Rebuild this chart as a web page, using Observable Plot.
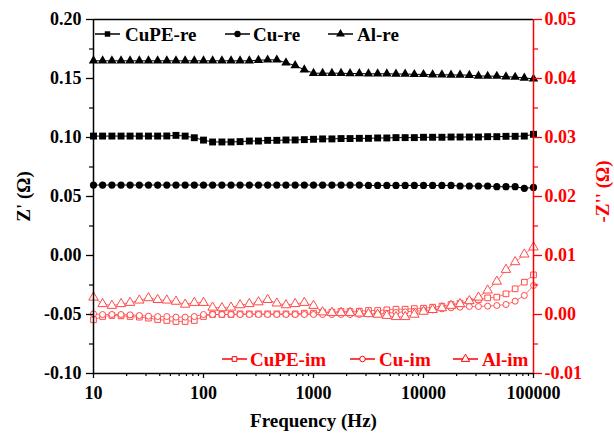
<!DOCTYPE html>
<html><head><meta charset="utf-8">
<script src="https://cdn.jsdelivr.net/npm/d3@7"></script>
<script src="https://cdn.jsdelivr.net/npm/@observablehq/plot@0.6"></script>
<style>
body{margin:0;background:#fff;}
#wrap{position:relative;width:614px;height:444px;}
#wrap svg.overlay{position:absolute;left:0;top:0;pointer-events:none;}
</style></head><body><div id="wrap"></div>
<script>
// Frequency (Hz), 12 points per decade
const freq = [10, 12.1, 14.7, 17.8, 21.5, 26.1, 31.6, 38.3, 46.4, 56.2, 68.1, 82.5,
  100, 121, 147, 178, 215, 261, 316, 383, 464, 562, 681, 825,
  1000, 1210, 1470, 1780, 2150, 2610, 3160, 3830, 4640, 5620, 6810, 8250,
  10000, 12100, 14700, 17800, 21500, 26100, 31600, 38300, 46400, 56200, 68100, 82500,
  100000];

// Z' (Ohm), left axis
const cupeRe = [0.1012, 0.1012, 0.1012, 0.1012, 0.1012, 0.1012, 0.1012, 0.1012, 0.1013, 0.1018,
  0.1012, 0.0998, 0.0978, 0.0962, 0.0962, 0.0962, 0.0965, 0.0970, 0.0970, 0.0976,
  0.0976, 0.0979, 0.0979, 0.0982, 0.0985, 0.0988, 0.0988, 0.0991, 0.0991, 0.0993,
  0.0993, 0.0996, 0.0996, 0.0999, 0.0999, 0.0999, 0.1002, 0.1002, 0.1002, 0.1004,
  0.1004, 0.1004, 0.1004, 0.1007, 0.1007, 0.1010, 0.1010, 0.1012, 0.1027];
const cuRe = [0.0597, 0.0597, 0.0597, 0.0597, 0.0597, 0.0597, 0.0597, 0.0597, 0.0597, 0.0597,
  0.0597, 0.0597, 0.0597, 0.0597, 0.0597, 0.0597, 0.0597, 0.0597, 0.0597, 0.0597,
  0.0597, 0.0597, 0.0597, 0.0597, 0.0597, 0.0597, 0.0597, 0.0597, 0.0597, 0.0597,
  0.0594, 0.0594, 0.0594, 0.0594, 0.0594, 0.0594, 0.0594, 0.0594, 0.0594, 0.0594,
  0.0589, 0.0589, 0.0589, 0.0589, 0.0583, 0.0583, 0.0583, 0.0569, 0.0577];
const alRe = [0.1650, 0.1650, 0.1650, 0.1650, 0.1650, 0.1650, 0.1650, 0.1650, 0.1650, 0.1650,
  0.1650, 0.1650, 0.1650, 0.1650, 0.1650, 0.1650, 0.1650, 0.1650, 0.1655, 0.1658,
  0.1658, 0.1633, 0.1610, 0.1574, 0.1545, 0.1545, 0.1545, 0.1545, 0.1542, 0.1542,
  0.1540, 0.1540, 0.1540, 0.1538, 0.1538, 0.1535, 0.1535, 0.1532, 0.1532, 0.1530,
  0.1530, 0.1528, 0.1522, 0.1520, 0.1520, 0.1515, 0.1512, 0.1505, 0.1497];

// -Z'' (Ohm), right axis
const cupeIm = [-0.0009, -0.00034, -0.00017, -0.00023, -0.00034, -0.00045, -0.00062, -0.00085, -0.00102, -0.00119,
  -0.00119, -0.00102, -0.00034, 0, 0, 0, 0.00011, 0.00011, 0.00011, 0.00011,
  0.00011, 0.00011, 0.00011, 0.00023, 0.00023, 0.0004, 0.0004, 0.00051, 0.00051, 0.00056,
  0.00068, 0.00068, 0.00079, 0.0009, 0.0009, 0.001, 0.00107, 0.00124, 0.00141, 0.0017,
  0.00192, 0.00226, 0.00254, 0.00282, 0.00294, 0.0035, 0.00435, 0.00548, 0.00672];
const cuIm = [0.00011, 0, 0, 0, -0.00006, -0.00017, -0.00028, -0.00034, -0.00034, -0.00045,
  -0.00045, -0.00034, 0, 0, 0, 0, 0, 0, 0, 0,
  0, 0, 0, 0, 0, 0, 0, 0, 0, 0,
  0.00011, 0.00011, 0.00023, 0.00034, 0.00045, 0.00056, 0.00068, 0.00079, 0.00096, 0.00113,
  0.00124, 0.00136, 0.00136, 0.00141, 0.00153, 0.0017, 0.00226, 0.00322, 0.00492];
const alIm = [0.0029, 0.0018, 0.0015, 0.0018, 0.0020, 0.0024, 0.0028, 0.0025, 0.0024, 0.0022,
  0.0017, 0.0020, 0.0020, 0.0012, 0.0011, 0.0012, 0.0016, 0.0018, 0.0021, 0.0025,
  0.0019, 0.0016, 0.0018, 0.0020, 0.0015, 0.0004, 0.0003, 0.0003, 0.0003, 0.0002,
  0.0001, 0.0000, -0.0002, -0.0004, -0.0004, 0.0000, 0.0005, 0.0008, 0.0011, 0.0015,
  0.0018, 0.0023, 0.0029, 0.0041, 0.0056, 0.0076, 0.0089, 0.0102, 0.0114];

const xTicks = [10, 100, 1000, 10000, 100000];
const xMinor = [20,30,40,50,60,70,80,90, 200,300,400,500,600,700,800,900,
  2000,3000,4000,5000,6000,7000,8000,9000, 20000,30000,40000,50000,60000,70000,80000,90000];
const yTicks = [-0.10, -0.05, 0.00, 0.05, 0.10, 0.15, 0.20];
const yMinor = [-0.075, -0.025, 0.025, 0.075, 0.125, 0.175];
const y2Ticks = [-0.01, 0.00, 0.01, 0.02, 0.03, 0.04, 0.05];
const y2Minor = [-0.005, 0.005, 0.015, 0.025, 0.035, 0.045];

// map right-axis values onto the left scale: -0.01..0.05 -> -0.10..0.20
const toLeft = v => 5 * v - 0.05;
const fromLeft = v => (v + 0.05) / 5;

const rows = (arr) => freq.map((f, i) => ({f, v: arr[i]}));
const RED = "#ff0000";
const RED2 = "#ff4a4a";
const FONT = "'Liberation Serif', 'Times New Roman', serif";

const reSeries = [
  {data: rows(cupeRe), symbol: "square", r: 3.9},
  {data: rows(cuRe), symbol: "circle", r: 3.6},
  {data: rows(alRe), symbol: "triangle", r: 3.5}
];
const imSeries = [
  {data: rows(cupeIm), symbol: "square", r: 3.2},
  {data: rows(cuIm), symbol: "circle", r: 3.0},
  {data: rows(alIm), symbol: "triangle", r: 3.5}
];

const marks = [];
for (const s of imSeries) {
  marks.push(Plot.line(s.data, {x: "f", y: d => toLeft(d.v), stroke: RED2, strokeWidth: 0.8}));
  marks.push(Plot.dot(s.data, {x: "f", y: d => toLeft(d.v), symbol: s.symbol, r: s.r, stroke: RED2, strokeWidth: 1, fill: "white"}));
}
for (const s of reSeries) {
  marks.push(Plot.line(s.data, {x: "f", y: "v", stroke: "black", strokeWidth: 1}));
  marks.push(Plot.dot(s.data, {x: "f", y: "v", symbol: s.symbol, r: s.r, fill: "black", stroke: "none"}));
}

const chart = Plot.plot({
  width: 614, height: 444,
  marginLeft: 93, marginRight: 81, marginTop: 19, marginBottom: 71,
  x: {type: "log", domain: [10, 100000]},
  y: {domain: [-0.10, 0.20]},
  style: {fontFamily: FONT, fontSize: "18px", fontWeight: "bold", background: "white", color: "black", overflow: "visible"},
  marks: [
    ...marks,
    // frame
    Plot.ruleY([0.20], {stroke: "black", strokeWidth: 1.5}),
    Plot.ruleY([-0.10], {stroke: "black", strokeWidth: 1.5}),
    Plot.ruleX([10], {stroke: "black", strokeWidth: 1.5}),
    Plot.ruleX([100000], {stroke: RED, strokeWidth: 1.5}),
    // left axis
    Plot.axisY(yTicks, {anchor: "left", tickSize: 7, tickPadding: 5, tickFormat: d => d.toFixed(2), label: null, strokeWidth: 1.3}),
    Plot.axisY(yMinor, {anchor: "left", tickSize: 4, tickFormat: () => "", label: null, strokeWidth: 1.2}),
    // right axis
    Plot.axisY(y2Ticks.map(toLeft), {anchor: "right", tickSize: 8, tickPadding: 3, color: RED,
      tickFormat: d => (Math.round(fromLeft(d) * 100) / 100).toFixed(2), label: null, strokeWidth: 1.3}),
    Plot.axisY(y2Minor.map(toLeft), {anchor: "right", tickSize: 4, tickFormat: () => "", label: null, color: RED, strokeWidth: 1.2}),
    // bottom axis
    Plot.axisX(xTicks, {anchor: "bottom", tickSize: 5, tickPadding: 8, tickFormat: d => String(d), label: null, strokeWidth: 1.3}),
    Plot.axisX(xMinor, {anchor: "bottom", tickSize: 3, tickFormat: () => "", label: null, strokeWidth: 1.2}),
    // axis titles
    Plot.text(["Z' (Ω)"], {frameAnchor: "left", dx: -70, rotate: -90, textAnchor: "middle", fontSize: 19, fontWeight: "bold", fill: "black"}),
    Plot.text(["-Z'' (Ω)"], {frameAnchor: "right", dx: 69, dy: -5, rotate: -90, textAnchor: "middle", fontSize: 19, fontWeight: "bold", fill: RED}),
    Plot.text(["Frequency (Hz)"], {frameAnchor: "bottom", dy: 53, textAnchor: "middle", fontSize: 19, fontWeight: "bold", fill: "black"})
  ]
});
const wrap = document.getElementById("wrap");
wrap.appendChild(chart);

// legends (inside the frame)
const legendRe = [
  {label: "CuPE-re", symbol: d3.symbolSquare, size: 30, x: 95, tx: 125},
  {label: "Cu-re", symbol: d3.symbolCircle, size: 32, x: 225, tx: 253},
  {label: "Al-re", symbol: d3.symbolTriangle, size: 34, x: 328, tx: 357}
];
const legendIm = [
  {label: "CuPE-im", symbol: d3.symbolSquare, size: 22, x: 222, tx: 250},
  {label: "Cu-im", symbol: d3.symbolCircle, size: 24, x: 350, tx: 379},
  {label: "Al-im", symbol: d3.symbolTriangle, size: 30, x: 453, tx: 482}
];
const ov = d3.select(wrap).append("svg").attr("class", "overlay")
  .attr("width", 614).attr("height", 444)
  .style("font-family", FONT).style("font-weight", "bold").style("font-size", "19px");
function drawLegend(items, cy, color, hollow) {
  for (const it of items) {
    const g = ov.append("g");
    g.append("line").attr("x1", it.x).attr("x2", it.x + 25).attr("y1", cy).attr("y2", cy)
      .attr("stroke", color).attr("stroke-width", 1.5);
    g.append("path").attr("d", d3.symbol(it.symbol, it.size)())
      .attr("transform", `translate(${it.x + 12.5},${cy})`)
      .attr("fill", hollow ? "white" : color).attr("stroke", hollow ? color : "none").attr("stroke-width", 1);
    g.append("text").attr("x", it.tx).attr("y", cy).attr("dy", "0.35em")
      .attr("fill", color).text(it.label);
  }
}
drawLegend(legendRe, 34, "black", false);
drawLegend(legendIm, 359, RED, true);
</script></body></html>
